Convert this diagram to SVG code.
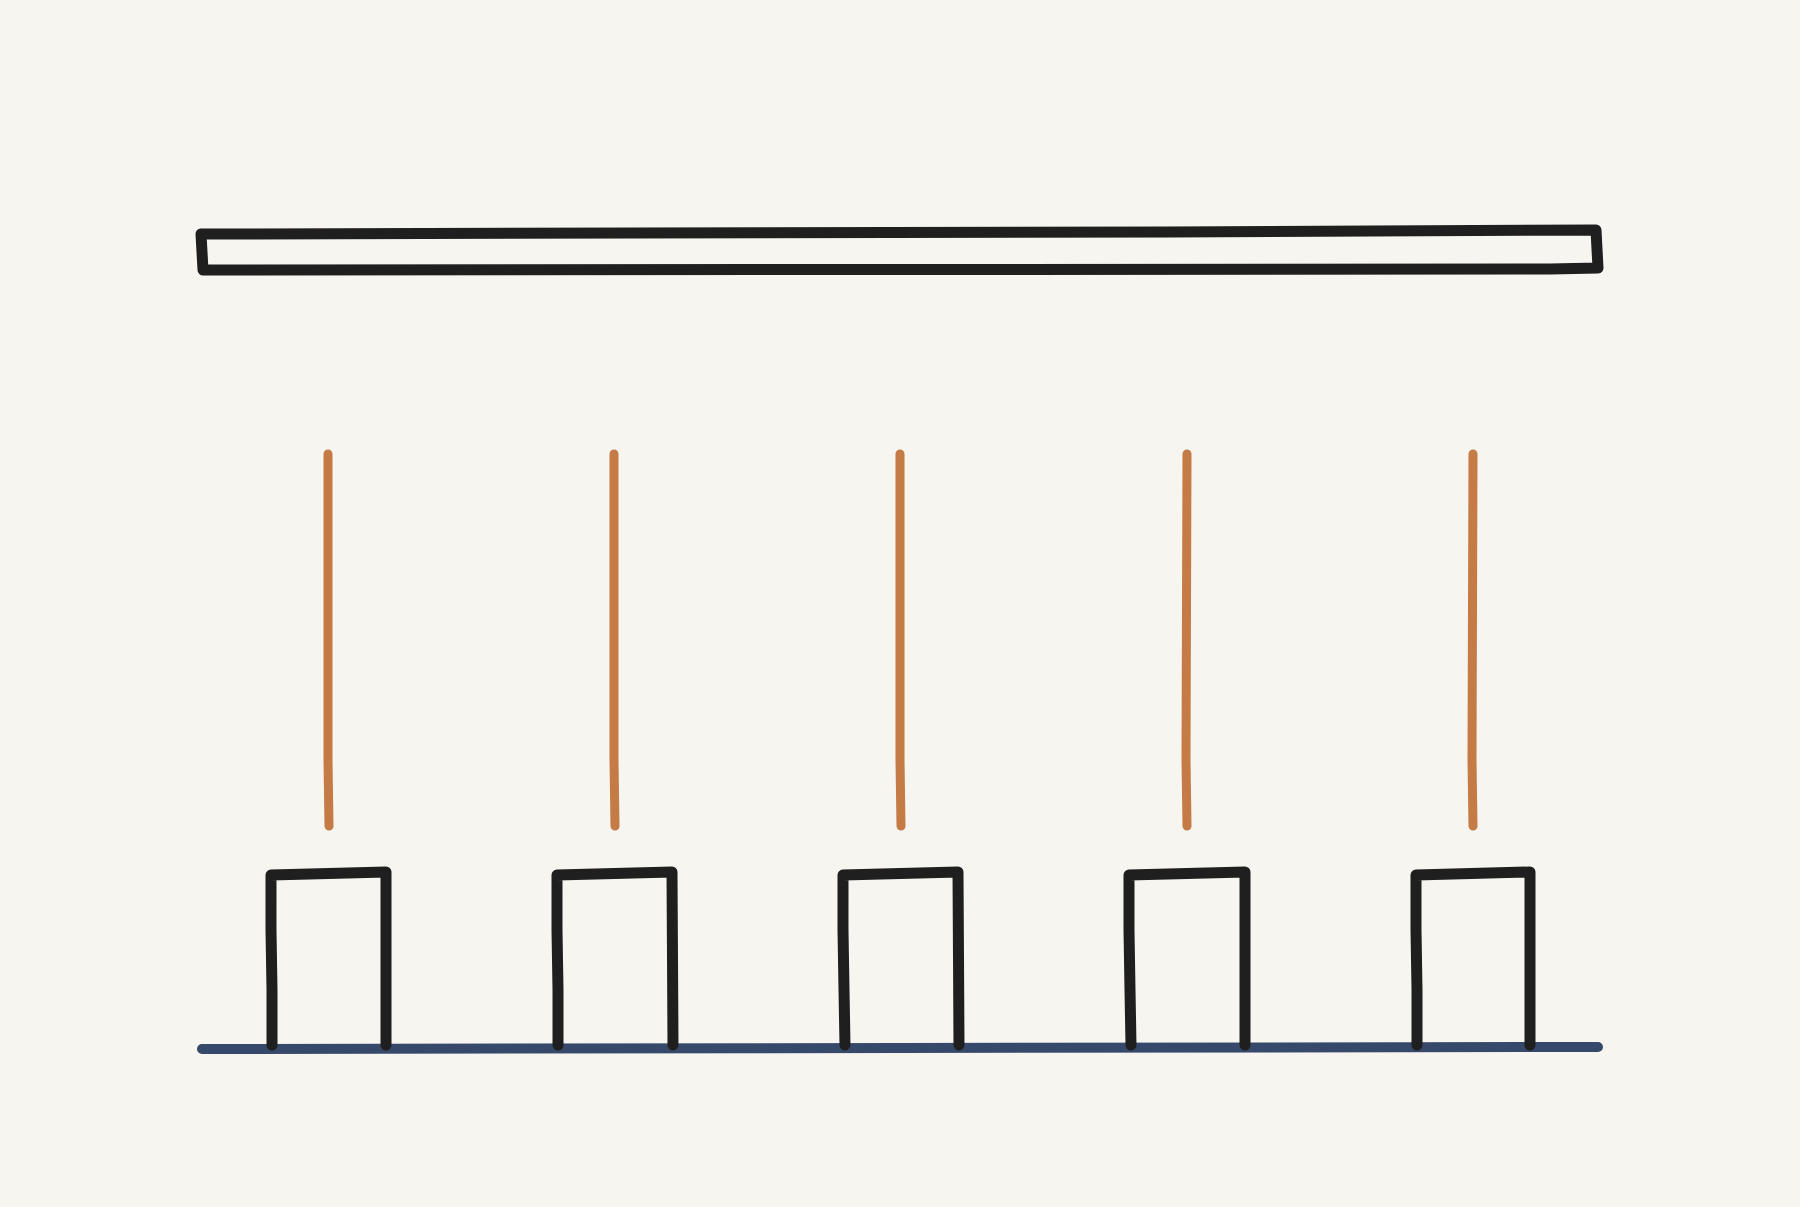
<svg xmlns="http://www.w3.org/2000/svg" width="1800" height="1207" viewBox="0 0 1800 1207">
<style>
.blk{fill:none;stroke:#1f1f1f;stroke-width:11;stroke-linecap:round;stroke-linejoin:round}
.org{fill:none;stroke:#c47b45;stroke-width:9;stroke-linecap:round}
.nav{fill:none;stroke:#37496b;stroke-width:10;stroke-linecap:round}
</style>
<rect width="1800" height="1207" fill="#f7f5f0"/>
<g id="beam">
<path class="blk" d="M201,234 L1170,232 L1596,230 L1598,268 L1550,269 L203,270 Z"/>
</g>
<g id="connectors">
<path class="org" d="M328,454 L328,760 L329,826"/>
<path class="org" d="M614,454 L614,760 L615,826"/>
<path class="org" d="M900,454 L900,760 L901,826"/>
<path class="org" d="M1187,454 L1186,760 L1187,826"/>
<path class="org" d="M1473,454 L1472,760 L1473,826"/>
</g>
<g id="ground">
<path class="nav" d="M202,1049 L900,1048 L1598,1047"/>
</g>
<g id="box1"><path class="blk" d="M272,1045 L272,990 L271,930 L271,875 L386,872 L386,1045"/></g>
<g id="box2"><path class="blk" d="M558,1045 L558,990 L557,930 L557,875 L672,872 L673,1045"/></g>
<g id="box3"><path class="blk" d="M845,1045 L844,990 L843,930 L843,875 L958,872 L959,1045"/></g>
<g id="box4"><path class="blk" d="M1131,1045 L1130,990 L1129,930 L1129,875 L1245,872 L1245,1045"/></g>
<g id="box5"><path class="blk" d="M1417,1045 L1417,990 L1416,930 L1416,875 L1530,872 L1530,1045"/></g>
</svg>
